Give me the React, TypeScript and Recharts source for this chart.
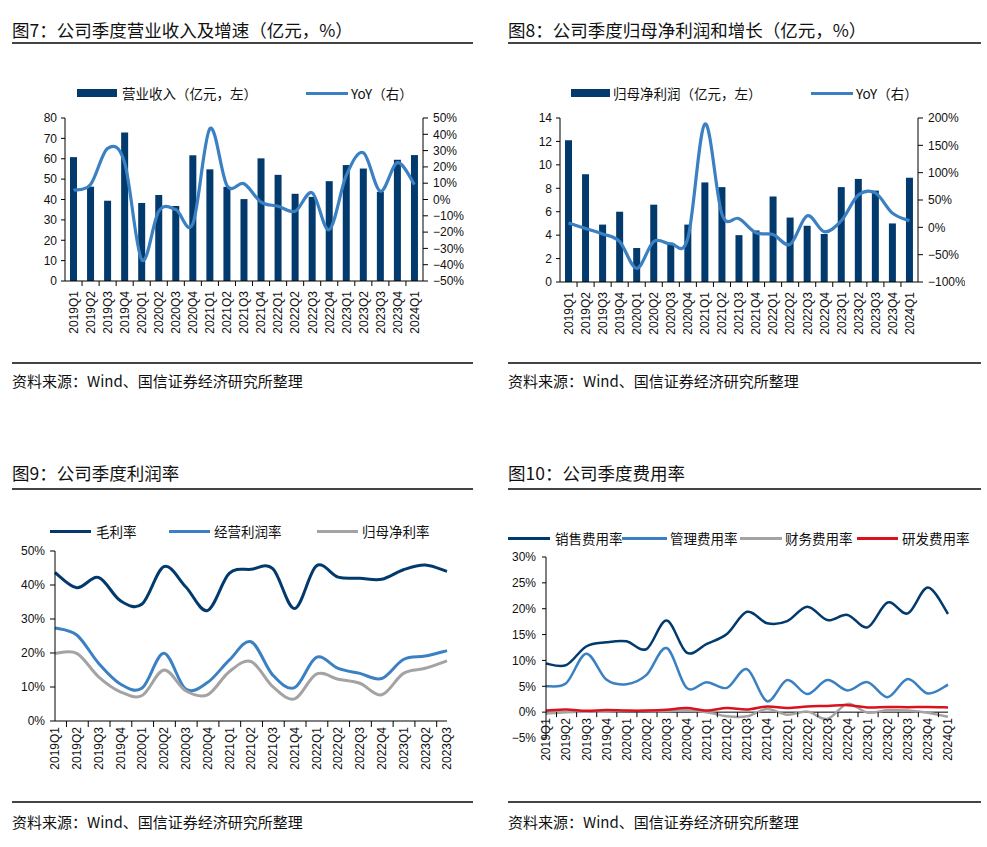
import React from 'react';
import { ComposedChart, LineChart, Bar, Line, XAxis, YAxis, Legend, ReferenceLine } from 'recharts';

// ---------- data ----------
const quarters21 = ['2019Q1','2019Q2','2019Q3','2019Q4','2020Q1','2020Q2','2020Q3','2020Q4','2021Q1','2021Q2','2021Q3','2021Q4','2022Q1','2022Q2','2022Q3','2022Q4','2023Q1','2023Q2','2023Q3','2023Q4','2024Q1'];
const quarters19 = ['2019Q1','2019Q2','2019Q3','2019Q4','2020Q1','2020Q2','2020Q3','2020Q4','2021Q1','2021Q2','2021Q3','2021Q4','2022Q1','2022Q2','2022Q3','2022Q4','2023Q1','2023Q2','2023Q3'];

const revenue = [60.8, 46.3, 39.4, 72.9, 38.3, 42.2, 36.8, 61.7, 54.8, 46.2, 40.2, 60.2, 52.1, 42.8, 41.3, 49.0, 56.9, 55.2, 43.8, 59.5, 61.8];
const revenueYoY = [5.7, 9.2, 31.4, 22.6, -37, -7.2, -6.2, -14.8, 43.5, 8.6, 9.7, -1.6, -4.1, -7.2, 4.1, -18.5, 14.8, 28.7, 5.1, 22.6, 9.2];

const netProfit = [12.1, 9.2, 4.9, 6.0, 2.9, 6.6, 3.3, 4.9, 8.5, 8.1, 4.0, 4.4, 7.3, 5.5, 4.8, 4.1, 8.1, 8.8, 7.8, 5.0, 8.9];
const netProfitYoY = [8, -2, -12, -26, -75, -26, -30, -20, 189, 24, 16, -10, -13, -31, 21, -8, 12, 59, 63, 26, 12];

const grossMargin = [43.7, 39.2, 42.2, 35.4, 34.4, 45.4, 39.5, 32.5, 43.4, 44.6, 44.8, 33.1, 45.6, 42.3, 42.0, 41.7, 44.5, 45.9, 44.0];
const opMargin = [27.4, 25.3, 17.0, 10.9, 9.7, 19.9, 9.4, 11.3, 17.9, 23.3, 13.5, 9.8, 18.7, 15.5, 14.0, 12.5, 18.1, 19.1, 20.7];
const netMargin = [19.9, 19.9, 13.0, 8.6, 7.5, 15.0, 8.9, 7.7, 14.5, 17.5, 10.1, 6.5, 13.8, 12.3, 11.1, 7.7, 14.0, 15.5, 17.7];

const sellingExp = [9.4, 9.1, 12.7, 13.5, 13.7, 12.2, 17.7, 11.5, 13.2, 15.1, 19.4, 17.2, 17.6, 20.4, 17.8, 18.8, 16.4, 21.2, 19.1, 24.1, 19.0];
const adminExp = [5.0, 5.6, 11.3, 6.3, 5.4, 7.2, 12.4, 4.7, 5.8, 4.7, 8.3, 2.1, 6.2, 3.5, 6.2, 4.2, 5.8, 2.9, 6.4, 3.6, 5.3];
const finExp = [-0.3, 0.0, 0.1, 0.1, 0.2, 0.2, 0.2, 0.3, 0.0, -0.8, -0.8, 0.6, -0.5, 0.1, -1.3, 1.6, -0.1, 0.4, 0.3, -0.1, -0.9];
const rdExp = [0.3, 0.5, 0.25, 0.4, 0.3, 0.3, 0.45, 0.8, 0.3, 0.8, 0.5, 1.1, 0.8, 1.1, 1.2, 1.35, 0.9, 1.0, 0.95, 1.0, 0.9];

const ticksRevenue = [0, 10, 20, 30, 40, 50, 60, 70, 80];
const ticksRevenueYoY = [-50, -40, -30, -20, -10, 0, 10, 20, 30, 40, 50];
const ticksProfit = [0, 2, 4, 6, 8, 10, 12, 14];
const ticksProfitYoY = [-100, -50, 0, 50, 100, 150, 200];
const ticksMargin = [0, 10, 20, 30, 40, 50];
const ticksExpense = [-5, 0, 5, 10, 15, 20, 25, 30];

const chart1Data = quarters21.map((q, i) => ({ q, rev: revenue[i], yoy: revenueYoY[i] }));
const chart2Data = quarters21.map((q, i) => ({ q, np: netProfit[i], yoy: netProfitYoY[i] }));
const chart3Data = quarters19.map((q, i) => ({ q, gm: grossMargin[i], om: opMargin[i], nm: netMargin[i] }));
const chart4Data = quarters21.map((q, i) => ({ q, se: sellingExp[i], ad: adminExp[i], fi: finExp[i], rd: rdExp[i] }));

// ---------- styles ----------
const FONT_CJK = '"Noto Sans CJK SC", "Noto Sans", sans-serif';
const FONT_NUM = '"Liberation Sans", Arial, sans-serif';
const NAVY = '#023a6d';
const BLUE = '#3a80c2';
const GRAY = '#a3a3a3';
const RED = '#d9121f';
const AX = '#000';

const pct = (v: number) => (v < 0 ? '\u2212' + Math.abs(v) : String(v)) + '%';

// Excel-like smoothed line (Catmull-Rom through the points)
function catmullRom(context: any) {
  let pts: number[][] = [];
  return {
    areaStart() {},
    areaEnd() {},
    lineStart() { pts = []; },
    point(x: number, y: number) { pts.push([+x, +y]); },
    lineEnd() {
      const n = pts.length;
      if (!n) return;
      context.moveTo(pts[0][0], pts[0][1]);
      if (n === 1) return;
      for (let i = 0; i < n - 1; i++) {
        const p0 = pts[i - 1] || pts[i];
        const p1 = pts[i];
        const p2 = pts[i + 1];
        const p3 = pts[i + 2] || p2;
        context.bezierCurveTo(
          p1[0] + (p2[0] - p0[0]) / 6, p1[1] + (p2[1] - p0[1]) / 6,
          p2[0] - (p3[0] - p1[0]) / 6, p2[1] - (p3[1] - p1[1]) / 6,
          p2[0], p2[1]
        );
      }
    },
  };
}

function QuarterTick(props: any) {
  const { x, y, payload, index, bw, gap, tl, shift = 0 } = props;
  const ay = y - shift;
  const bx = x - bw / 2;
  return (
    <g>
      {index > 0 && <line x1={bx} x2={bx} y1={ay} y2={ay + tl} stroke={AX} strokeWidth={1} />}
      <text
        x={0}
        y={0}
        transform={`translate(${x},${ay + gap}) rotate(-90)`}
        textAnchor="end"
        dy="0.36em"
        fontSize={12}
        fontFamily={FONT_NUM}
        fill="#111"
      >
        {payload.value}
      </text>
    </g>
  );
}

type Slot = { name: string; kind: 'bar' | 'line'; sx: number; sw: number; tx: number; color: string };

function SlotLegend({ payload, slots, y }: { payload: any[]; slots: Slot[]; y: number }) {
  return (
    <div>
      {(payload || []).map((e: any) => {
        const s = slots.find((t) => t.name === e.value);
        if (!s) return null;
        const h = s.kind === 'bar' ? 8 : 3;
        return (
          <React.Fragment key={s.name}>
            <div style={{ position: 'absolute', left: s.sx, top: y - h / 2, width: s.sw, height: h, background: s.color }} />
            <div
              style={{
                position: 'absolute', left: s.tx, top: y - 10, height: 20, lineHeight: '20px',
                fontSize: 13.5, fontFamily: FONT_CJK, whiteSpace: 'nowrap', color: '#111',
              }}
            >
              {s.name}
            </div>
          </React.Fragment>
        );
      })}
    </div>
  );
}

const slots1: Slot[] = [
  { name: '营业收入（亿元，左）', kind: 'bar', sx: 77, sw: 40, tx: 122, color: NAVY },
  { name: 'YoY（右）', kind: 'line', sx: 306, sw: 42, tx: 351, color: BLUE },
];
const slots2: Slot[] = [
  { name: '归母净利润（亿元，左）', kind: 'bar', sx: 76, sw: 39, tx: 118, color: NAVY },
  { name: 'YoY（右）', kind: 'line', sx: 316, sw: 42, tx: 361, color: BLUE },
];
const slots3: Slot[] = [
  { name: '毛利率', kind: 'line', sx: 50, sw: 41, tx: 96, color: NAVY },
  { name: '经营利润率', kind: 'line', sx: 169, sw: 41, tx: 214, color: BLUE },
  { name: '归母净利率', kind: 'line', sx: 317, sw: 41, tx: 362, color: GRAY },
];
const slots4: Slot[] = [
  { name: '销售费用率', kind: 'line', sx: 13, sw: 42, tx: 60, color: NAVY },
  { name: '管理费用率', kind: 'line', sx: 127, sw: 45, tx: 175, color: BLUE },
  { name: '财务费用率', kind: 'line', sx: 245, sw: 42, tx: 290, color: GRAY },
  { name: '研发费用率', kind: 'line', sx: 362, sw: 41, tx: 407, color: RED },
];

function Frame({ x, w, titleY, lineY, bottomY, sourceY, title }: any) {
  return (
    <>
      <div style={{ position: 'absolute', left: x, top: titleY - 12, height: 24, lineHeight: '24px', fontSize: 17.5, fontFamily: FONT_CJK, color: '#111', whiteSpace: 'nowrap' }}>{title}</div>
      <div style={{ position: 'absolute', left: x, top: lineY - 1, width: w, height: 2, background: '#444' }} />
      <div style={{ position: 'absolute', left: x, top: bottomY - 1, width: w, height: 2, background: '#444' }} />
      <div style={{ position: 'absolute', left: x, top: sourceY - 11, height: 22, lineHeight: '22px', fontSize: 15, fontFamily: FONT_CJK, color: '#111', whiteSpace: 'nowrap' }}>资料来源：Wind、国信证券经济研究所整理</div>
    </>
  );
}

const yTick = { fontSize: 12, fill: '#111', fontFamily: FONT_NUM };

export default function App() {
  const legendWrap = (w: number) => ({ left: 0, top: 0, width: w, height: 1 });
  return (
    <div style={{ position: 'absolute', left: 0, top: 0, width: 987, height: 847, background: '#fff', overflow: 'hidden' }}>
      <Frame x={12} w={461} titleY={30} lineY={43} bottomY={363} sourceY={381} title="图7：公司季度营业收入及增速（亿元，%）" />
      <Frame x={508} w={473} titleY={30} lineY={43} bottomY={363} sourceY={381} title="图8：公司季度归母净利润和增长（亿元，%）" />
      <Frame x={12} w={461} titleY={473} lineY={489} bottomY={802} sourceY={822} title="图9：公司季度利润率" />
      <Frame x={508} w={473} titleY={473} lineY={489} bottomY={802} sourceY={822} title="图10：公司季度费用率" />

      {/* Chart 1 */}
      <div style={{ position: 'absolute', left: 0, top: 60 }}>
        <ComposedChart width={470} height={300} data={chart1Data} margin={{ top: 58, right: 0, bottom: 19, left: 0 }}>
          <XAxis dataKey="q" interval={0} height={60} tickSize={0} tickMargin={0} tickLine={false} axisLine={{ stroke: AX }}
            tick={(p: any) => <QuarterTick {...p} bw={358 / 21} gap={10} tl={5} />} />
          <YAxis yAxisId="l" domain={[0, 80]} ticks={ticksRevenue} width={65} tickSize={4} tickMargin={4} stroke={AX} tick={yTick} interval={0} />
          <YAxis yAxisId="r" orientation="right" domain={[-50, 50]} ticks={ticksRevenueYoY} width={47} tickSize={5} tickMargin={5} stroke={AX} tick={yTick} tickFormatter={pct} interval={0} />
          <Bar yAxisId="l" dataKey="rev" name="营业收入（亿元，左）" fill={NAVY} barSize={7} isAnimationActive={false} />
          <Line yAxisId="r" dataKey="yoy" name="YoY（右）" stroke={BLUE} strokeWidth={3.2} dot={false} type={catmullRom as any} isAnimationActive={false} />
          <Legend verticalAlign="middle" align="center" layout="horizontal" wrapperStyle={legendWrap(470)}
            content={(p: any) => <SlotLegend payload={p.payload} slots={slots1} y={33} />} />
        </ComposedChart>
      </div>

      {/* Chart 2 */}
      <div style={{ position: 'absolute', left: 495, top: 60 }}>
        <ComposedChart width={470} height={300} data={chart2Data} margin={{ top: 58, right: 0, bottom: 18, left: 0 }}>
          <XAxis dataKey="q" interval={0} height={60} tickSize={0} tickMargin={0} tickLine={false} axisLine={{ stroke: AX }}
            tick={(p: any) => <QuarterTick {...p} bw={358 / 21} gap={10} tl={5} />} />
          <YAxis yAxisId="l" domain={[0, 14]} ticks={ticksProfit} width={65} tickSize={4} tickMargin={4} stroke={AX} tick={yTick} interval={0} />
          <YAxis yAxisId="r" orientation="right" domain={[-100, 200]} ticks={ticksProfitYoY} width={47} tickSize={5} tickMargin={5} stroke={AX} tick={yTick} tickFormatter={pct} interval={0} />
          <Bar yAxisId="l" dataKey="np" name="归母净利润（亿元，左）" fill={NAVY} barSize={7} isAnimationActive={false} />
          <Line yAxisId="r" dataKey="yoy" name="YoY（右）" stroke={BLUE} strokeWidth={3.2} dot={false} type={catmullRom as any} isAnimationActive={false} />
          <Legend verticalAlign="middle" align="center" layout="horizontal" wrapperStyle={legendWrap(470)}
            content={(p: any) => <SlotLegend payload={p.payload} slots={slots2} y={33} />} />
        </ComposedChart>
      </div>

      {/* Chart 3 */}
      <div style={{ position: 'absolute', left: 0, top: 500 }}>
        <LineChart width={470} height={310} data={chart3Data} margin={{ top: 51, right: 23, bottom: 29, left: 0 }}>
          <XAxis dataKey="q" interval={0} height={60} tickSize={0} tickMargin={0} tickLine={false} axisLine={{ stroke: AX }}
            tick={(p: any) => <QuarterTick {...p} bw={392 / 19} gap={6} tl={6} />} />
          <YAxis domain={[0, 50]} ticks={ticksMargin} width={55} tickSize={5} tickMargin={5} stroke={AX} tick={yTick} tickFormatter={pct} interval={0} />
          <Line dataKey="gm" name="毛利率" stroke={NAVY} strokeWidth={3} dot={false} type={catmullRom as any} isAnimationActive={false} />
          <Line dataKey="om" name="经营利润率" stroke={BLUE} strokeWidth={3} dot={false} type={catmullRom as any} isAnimationActive={false} />
          <Line dataKey="nm" name="归母净利率" stroke={GRAY} strokeWidth={3} dot={false} type={catmullRom as any} isAnimationActive={false} />
          <Legend verticalAlign="middle" align="center" layout="horizontal" wrapperStyle={legendWrap(470)}
            content={(p: any) => <SlotLegend payload={p.payload} slots={slots3} y={31} />} />
        </LineChart>
      </div>

      {/* Chart 4 */}
      <div style={{ position: 'absolute', left: 495, top: 500 }}>
        <LineChart width={492} height={310} data={chart4Data} margin={{ top: 57, right: 39, bottom: 22, left: 0 }}>
          <XAxis dataKey="q" interval={0} height={50} tickSize={0} tickMargin={0} tickLine={false} axisLine={false}
            tick={(p: any) => <QuarterTick {...p} bw={402 / 21} gap={6} tl={5} shift={181 * 5 / 35} />} />
          <YAxis domain={[-5, 30]} ticks={ticksExpense} width={51} tickSize={4} tickMargin={6} stroke={AX} tick={yTick} tickFormatter={pct} interval={0} />
          <ReferenceLine y={0} stroke={AX} strokeWidth={1} />
          <Line dataKey="se" name="销售费用率" stroke={NAVY} strokeWidth={2.5} dot={false} type={catmullRom as any} isAnimationActive={false} />
          <Line dataKey="ad" name="管理费用率" stroke={BLUE} strokeWidth={2.5} dot={false} type={catmullRom as any} isAnimationActive={false} />
          <Line dataKey="fi" name="财务费用率" stroke={GRAY} strokeWidth={2.5} dot={false} type={catmullRom as any} isAnimationActive={false} />
          <Line dataKey="rd" name="研发费用率" stroke={RED} strokeWidth={2.5} dot={false} type={catmullRom as any} isAnimationActive={false} />
          <Legend verticalAlign="middle" align="center" layout="horizontal" wrapperStyle={legendWrap(492)}
            content={(p: any) => <SlotLegend payload={p.payload} slots={slots4} y={38} />} />
        </LineChart>
      </div>
    </div>
  );
}
